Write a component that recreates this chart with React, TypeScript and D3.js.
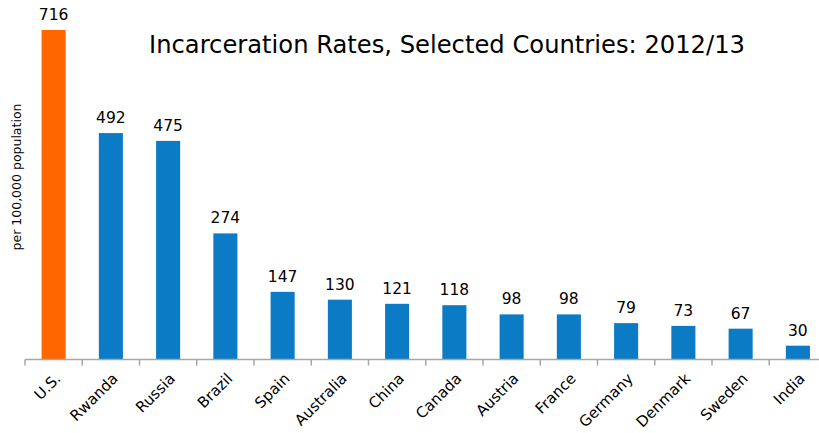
import React from "react";
import * as d3 from "d3";

const countries = ["U.S.", "Rwanda", "Russia", "Brazil", "Spain", "Australia", "China", "Canada", "Austria", "France", "Germany", "Denmark", "Sweden", "India"];
const rates = [716, 492, 475, 274, 147, 130, 121, 118, 98, 98, 79, 73, 67, 30];
const highlight = ["U.S."];
const title = "Incarceration Rates, Selected Countries: 2012/13";
const yLabel = "per 100,000 population";

export default function App() {
  const W = 819, H = 433;
  const x0 = 25, step = 57.25;
  const base = 359.5;
  const x = d3.scaleBand<string>().domain(countries).range([x0, x0 + step * countries.length]).padding(0);
  const y = d3.scaleLinear().domain([0, 716]).range([base, 30]);
  const bw = x.bandwidth() * 0.42;
  const font = "Verdana, 'DejaVu Sans', sans-serif";
  const ticks = d3.range(countries.length + 1).map(i => x0 + step * i);
  return (
    <svg width={W} height={H} style={{ position: "absolute", left: 0, top: 0 }} fontFamily={font}>
      <rect width={W} height={H} fill="#fff" />
      <text x={149} y={53} fontSize={24.5} textLength={596} lengthAdjust="spacingAndGlyphs" fill="#000">{title}</text>
      <text transform={`translate(21,${177}) rotate(-90)`} textAnchor="middle" fontSize={12.5} fill="#000">{yLabel}</text>
      {countries.map((c, i) => {
        const cx = (x(c) as number) + x.bandwidth() / 2;
        const v = rates[i];
        return (
          <g key={c}>
            <rect x={cx - bw / 2} y={y(v)} width={bw} height={base - y(v)} fill={highlight.includes(c) ? "#FF6600" : "#0A7BC4"} />
            <text x={cx} y={y(v) - 10} textAnchor="middle" fontSize={15.5} fill="#000">{v}</text>
            <text transform={`translate(${cx + 8},${379.5}) rotate(-45)`} textAnchor="end" fontSize={15} fill="#000">{c}</text>
          </g>
        );
      })}
      <line x1={x0} x2={W} y1={base} y2={base} stroke="#A6A6A6" strokeWidth={1.5} />
      {ticks.map((t, i) => (
        <line key={i} x1={t} x2={t} y1={base} y2={base + 6} stroke="#A6A6A6" strokeWidth={1.5} />
      ))}
    </svg>
  );
}
